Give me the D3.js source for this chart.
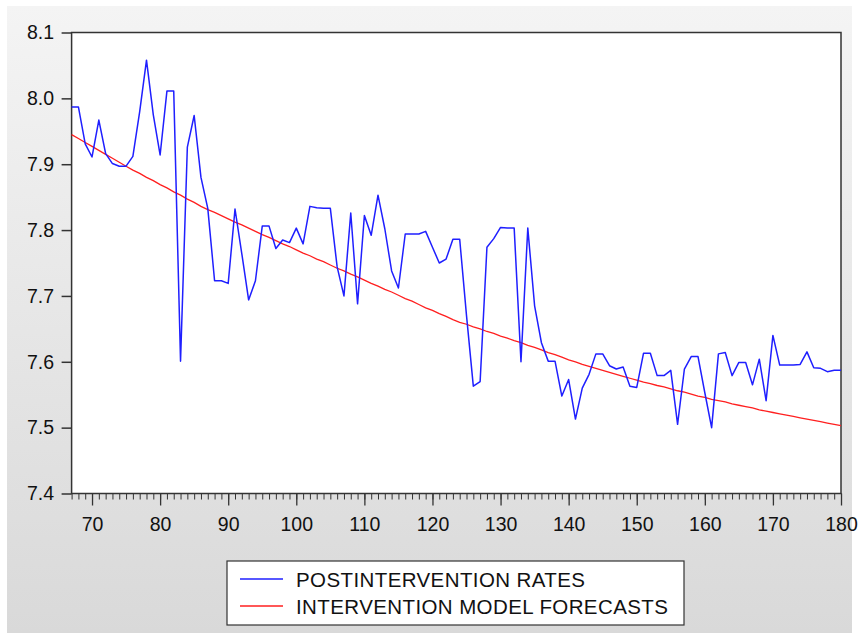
<!DOCTYPE html>
<html>
<head>
<meta charset="utf-8">
<script src="https://cdn.jsdelivr.net/npm/d3@7"></script>
<style>
  body { margin: 0; background: #fff; }
  text { font-family: "Liberation Sans", Arial, sans-serif; fill: #111; }
</style>
</head>
<body>
<div id="chart"></div>
<script>
const firstPeriod = 67;

const postinterventionRates = [
    7.987, 7.987, 7.931, 7.911, 7.967, 7.916, 7.901, 7.897, 7.897, 7.912,
    7.980, 8.058, 7.975, 7.914, 8.011, 8.011, 7.601, 7.926, 7.974, 7.880,
    7.833, 7.723, 7.723, 7.719, 7.832, 7.764, 7.694, 7.723, 7.806, 7.806,
    7.772, 7.785, 7.781, 7.803, 7.779, 7.836, 7.834, 7.833, 7.833, 7.744,
    7.700, 7.826, 7.688, 7.822, 7.792, 7.853, 7.802, 7.738, 7.712, 7.794,
    7.794, 7.794, 7.798, 7.774, 7.750, 7.756, 7.786, 7.786, 7.670, 7.563,
    7.570, 7.774, 7.787, 7.804, 7.803, 7.803, 7.600, 7.803, 7.685, 7.629,
    7.601, 7.601, 7.548, 7.573, 7.513, 7.560, 7.581, 7.612, 7.612, 7.594,
    7.589, 7.592, 7.563, 7.561, 7.613, 7.613, 7.579, 7.579, 7.587, 7.505,
    7.589, 7.608, 7.608, 7.553, 7.500, 7.612, 7.614, 7.579, 7.599, 7.599,
    7.565, 7.604, 7.541, 7.640, 7.595, 7.595, 7.595, 7.596, 7.615, 7.591,
    7.590, 7.585, 7.587, 7.587
];

const modelForecasts = [
    7.945, 7.939, 7.933, 7.927, 7.921, 7.915, 7.909, 7.903, 7.897, 7.891,
    7.886, 7.880, 7.875, 7.869, 7.864, 7.858, 7.853, 7.847, 7.842, 7.836,
    7.831, 7.827, 7.822, 7.817, 7.812, 7.808, 7.803, 7.798, 7.793, 7.789,
    7.784, 7.779, 7.775, 7.770, 7.765, 7.761, 7.756, 7.752, 7.747, 7.742,
    7.738, 7.733, 7.729, 7.724, 7.719, 7.715, 7.710, 7.706, 7.701, 7.696,
    7.692, 7.687, 7.682, 7.678, 7.673, 7.669, 7.664, 7.660, 7.657, 7.653,
    7.650, 7.646, 7.643, 7.639, 7.636, 7.632, 7.629, 7.625, 7.622, 7.618,
    7.614, 7.611, 7.607, 7.603, 7.600, 7.596, 7.593, 7.590, 7.587, 7.584,
    7.581, 7.578, 7.575, 7.572, 7.569, 7.567, 7.564, 7.562, 7.559, 7.556,
    7.554, 7.551, 7.548, 7.546, 7.543, 7.541, 7.539, 7.536, 7.534, 7.532,
    7.530, 7.527, 7.525, 7.523, 7.521, 7.519, 7.517, 7.515, 7.513, 7.511,
    7.509, 7.507, 7.505, 7.503
];

const yTicks = [7.4, 7.5, 7.6, 7.7, 7.8, 7.9, 8.0, 8.1];
const xLabelTicks = [70, 80, 90, 100, 110, 120, 130, 140, 150, 160, 170, 180];
const legendLabels = ["POSTINTERVENTION RATES", "INTERVENTION MODEL FORECASTS"];
const seriesColors = ["#1f1fff", "#ff1f1f"];

const W = 859, H = 633;
const plot = { left: 71.6, right: 841, top: 32.5, bottom: 493.5 };

const svg = d3.select("#chart")
    .append("svg")
    .attr("width", W)
    .attr("height", H);

const defs = svg.append("defs");
const grad = defs.append("linearGradient")
    .attr("id", "bg")
    .attr("x1", 0).attr("y1", 0).attr("x2", 0).attr("y2", 1);
grad.append("stop").attr("offset", "0%").attr("stop-color", "#f4f4f4");
grad.append("stop").attr("offset", "100%").attr("stop-color", "#d9d9d9");

// grey panel behind everything
svg.append("rect")
    .attr("x", 7).attr("y", 6)
    .attr("width", 845).attr("height", H - 6)
    .attr("fill", "url(#bg)");

const x = d3.scaleLinear()
    .domain([firstPeriod, 180])
    .range([plot.left, plot.right]);

const y = d3.scaleLinear()
    .domain([7.4, 8.1])
    .range([plot.bottom, plot.top]);

svg.append("rect")
    .attr("x", plot.left).attr("y", plot.top)
    .attr("width", plot.right - plot.left)
    .attr("height", plot.bottom - plot.top)
    .attr("fill", "#fff");

// y axis
const yAxis = d3.axisLeft(y)
    .tickValues(yTicks)
    .tickFormat(d3.format(".1f"))
    .tickSize(10)
    .tickSizeOuter(0)
    .tickPadding(7.5);

const gy = svg.append("g")
    .attr("transform", "translate(" + plot.left + ",0)")
    .call(yAxis);
gy.select(".domain").remove();
gy.selectAll("line").attr("stroke", "#333").attr("stroke-width", 1.5);
gy.selectAll("text")
    .attr("font-size", 19.5)
    .attr("font-family", "Liberation Sans, Arial, sans-serif")
    .attr("fill", "#111");

// x axis: minor ticks each period, major every 10
const minorTicks = d3.range(firstPeriod, 181);
const gxMinor = svg.append("g")
    .attr("transform", "translate(0," + plot.bottom + ")")
    .call(d3.axisBottom(x).tickValues(minorTicks).tickSize(6).tickSizeOuter(0).tickFormat(""));
gxMinor.select(".domain").remove();
gxMinor.selectAll("line").attr("stroke", "#333").attr("stroke-width", 1);

const gx = svg.append("g")
    .attr("transform", "translate(0," + plot.bottom + ")")
    .call(d3.axisBottom(x).tickValues(xLabelTicks).tickSize(12).tickSizeOuter(0).tickPadding(12));
gx.select(".domain").remove();
gx.selectAll("line").attr("stroke", "#333").attr("stroke-width", 1.3);
gx.selectAll("text")
    .attr("font-size", 19.5)
    .attr("font-family", "Liberation Sans, Arial, sans-serif")
    .attr("fill", "#111");

// frame
svg.append("rect")
    .attr("x", plot.left).attr("y", plot.top)
    .attr("width", plot.right - plot.left)
    .attr("height", plot.bottom - plot.top)
    .attr("fill", "none")
    .attr("stroke", "#333")
    .attr("stroke-width", 1.5);

const line = d3.line()
    .x((d, i) => x(firstPeriod + i))
    .y((d) => y(d));

svg.append("path")
    .datum(modelForecasts)
    .attr("fill", "none")
    .attr("stroke", seriesColors[1])
    .attr("stroke-width", 1.3)
    .attr("d", line);

svg.append("path")
    .datum(postinterventionRates)
    .attr("fill", "none")
    .attr("stroke", seriesColors[0])
    .attr("stroke-width", 1.5)
    .attr("stroke-linejoin", "round")
    .attr("d", line);

// legend
const legend = svg.append("g").attr("transform", "translate(227,561)");
legend.append("rect")
    .attr("width", 457).attr("height", 64)
    .attr("fill", "#fff")
    .attr("stroke", "#333")
    .attr("stroke-width", 1.2);

legendLabels.forEach((label, i) => {
    const ly = 18 + i * 27;
    legend.append("line")
        .attr("x1", 13).attr("x2", 56)
        .attr("y1", ly).attr("y2", ly)
        .attr("stroke", seriesColors[i])
        .attr("stroke-width", 1.5);
    legend.append("text")
        .attr("x", 69).attr("y", ly + 7.5)
        .attr("font-size", 20.5)
        .attr("letter-spacing", 0.4)
        .text(label);
});
</script>
</body>
</html>
